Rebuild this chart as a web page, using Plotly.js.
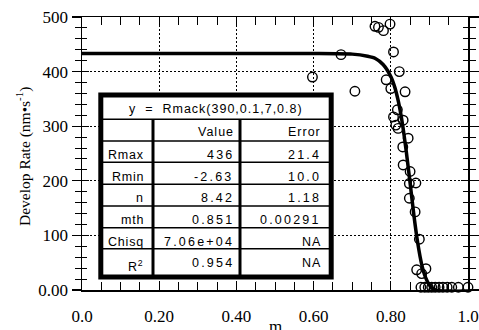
<!DOCTYPE html>
<html>
<head>
<meta charset="utf-8">
<script src="https://cdn.plot.ly/plotly-3.0.1.min.js"></script>
<style>html,body{margin:0;padding:0;background:#fff;}#chart{width:479px;height:330px;}</style>
</head>
<body>
<div id="chart"></div>
<script>
// ---- data ----
const xTickVals = [0, 0.2, 0.4, 0.6, 0.8, 1.0];
const xTickText = ['0.0', '0.20', '0.40', '0.60', '0.80', '1.0'];
const yTickVals = [0, 100, 200, 300, 400, 500];
const yTickText = ['0.00', '100', '200', '300', '400', '500'];

const measM = [0.597, 0.671, 0.707, 0.759, 0.768, 0.781, 0.798, 0.807, 0.822, 0.788, 0.800, 0.837,
  0.817, 0.807, 0.832, 0.813, 0.819, 0.845, 0.831, 0.832, 0.850, 0.848, 0.865, 0.848, 0.863, 0.874,
  0.867, 0.880, 0.891, 0.878, 0.888, 0.897, 0.906, 0.915, 0.925, 0.935, 0.946, 0.958, 0.975, 1.0];
const measRate = [390, 431, 364, 483, 481, 475, 487, 436, 400, 385, 369, 363,
  330, 317, 311, 302, 296, 278, 262, 229, 217, 195, 196, 168, 143, 93,
  37, 30, 39, 5, 5, 5, 5, 5, 5, 5, 5, 5, 5, 5];

const fitM = [0, 0.2, 0.4, 0.6, 0.7, 0.74, 0.76, 0.78, 0.80, 0.81, 0.82, 0.83, 0.84, 0.85, 0.86, 0.87, 0.88, 0.89, 0.90, 0.91, 0.92, 0.95, 1.0];
const fitRate = [433, 433, 433, 433, 432, 428, 424, 413, 391, 372, 344, 305, 254, 196, 136, 85, 47, 23, 9, 2, -1, -2, -2];

const tableTitle = 'y  =  Rmack(390,0.1,7,0.8)';
const colHeaders = ['', 'Value', 'Error'];
const paramNames = ['Rmax', 'Rmin', 'n', 'mth', 'Chisq', 'R<sup>2</sup>'];
const paramValues = ['436', '-2.63', '8.42', '0.851', '7.06e+04', '0.954'];
const paramErrors = ['21.4', '10.0', '1.18', '0.00291', 'NA', 'NA'];

// ---- layout helpers (pixel -> paper) ----
const L = 82, R = 468, T = 17, B = 290;
const PX = p => (p - L) / (R - L);
const PY = p => (B - p) / (B - T);

const serif = 'Liberation Serif, Times New Roman, serif';
const sans = 'Liberation Sans, Arial, Helvetica, sans-serif';
const spaced = (s, ls) => '<span style="letter-spacing:' + ls + 'px">' + s + '</span>';

const traces = [
  {x: fitM, y: fitRate, mode: 'lines', line: {color: '#000', width: 3.5, shape: 'spline', smoothing: 0.6}, hoverinfo: 'skip'},
  {x: measM, y: measRate, mode: 'markers', cliponaxis: false,
   marker: {symbol: 'circle-open', size: 9.5, color: '#000', line: {width: 1.4, color: '#000'}}},
  {x: [], y: [], yaxis: 'y2', mode: 'markers'}
];

// table geometry
const tL = 100.8, tR = 331.2, tT = 95, tB = 277;
const rowLines = [119.3, 141, 162.3, 184.3, 206, 227.7, 248.7];
const colLines = [153, 240];
const rowText = [155, 176.7, 198, 220, 242, 266];
const valText = [155, 176.7, 198, 220, 242, 263];
const colRight = [146, 236, 323];

const shapes = [];
shapes.push({type: 'rect', xref: 'paper', yref: 'paper', x0: PX(tL), x1: PX(tR), y0: PY(tB), y1: PY(tT),
  fillcolor: '#fff', line: {color: '#000', width: 5}});
rowLines.forEach(py => shapes.push({type: 'line', xref: 'paper', yref: 'paper', x0: PX(tL), x1: PX(tR), y0: PY(py), y1: PY(py),
  line: {color: '#000', width: 1.5}}));
colLines.forEach(px => shapes.push({type: 'line', xref: 'paper', yref: 'paper', x0: PX(px), x1: PX(px), y0: PY(rowLines[0]), y1: PY(tB),
  line: {color: '#000', width: 3}}));

const tf = {family: sans, size: 12.5, color: '#000'};
const ann = [];
const cell = (px, py, txt, anchor) => ann.push({xref: 'paper', yref: 'paper', x: PX(px), y: PY(py), text: txt, showarrow: false, font: tf, xanchor: anchor, yanchor: 'middle'});
cell((tL + tR) / 2, 108.5, spaced(tableTitle, 1), 'center');
colHeaders.forEach((h, i) => { if (h) cell(colRight[i], 131.5, spaced(h, 1), 'right'); });
paramNames.forEach((n, i) => {
  cell(colRight[0], rowText[i], spaced(n, 0.8), 'right');
  cell(colRight[1], valText[i], spaced(paramValues[i], 2.2), 'right');
  cell(colRight[2], valText[i], spaced(paramErrors[i], /\d/.test(paramErrors[i]) ? 2.2 : 1), 'right');
});
ann.push({xref: 'paper', yref: 'paper', x: PX(275), y: PY(326), text: 'm', showarrow: false, font: {family: serif, size: 17, color: '#000'}, xanchor: 'center', yanchor: 'middle'});
ann.push({xref: 'paper', yref: 'paper', x: PX(23), y: PY(157), text: 'Develop Rate (nm•s<sup>-1</sup>)', textangle: -90, showarrow: false, font: {family: serif, size: 15.5, color: '#000'}, xanchor: 'center', yanchor: 'middle'});

const layout = {
  width: 479, height: 330,
  margin: {l: L, r: 479 - R, t: T, b: 330 - B, pad: 0},
  paper_bgcolor: '#fff', plot_bgcolor: '#fff',
  showlegend: false,
  xaxis: {range: [0, 1], tickvals: xTickVals, ticktext: xTickText, ticks: 'inside', ticklen: 8, tickwidth: 1.2, tickcolor: '#000',
    showline: true, linecolor: '#000', linewidth: 1.5, mirror: 'allticks', zeroline: false,
    showgrid: true, gridcolor: '#000', gridwidth: 1, griddash: '2px,2px', ticklabelstandoff: 10,
    minor: {dtick: 0.05, ticks: 'inside', ticklen: 5, tickwidth: 1, tickcolor: '#000', showgrid: false},
    tickfont: {family: serif, size: 17, color: '#000'}, fixedrange: true},
  yaxis: {range: [0, 500], tickvals: yTickVals, ticktext: yTickText, ticks: 'outside', ticklen: 9, tickwidth: 1.2, tickcolor: '#000',
    showline: true, linecolor: '#000', linewidth: 1.5, mirror: 'allticks', zeroline: false,
    showgrid: true, gridcolor: '#000', gridwidth: 1, griddash: '2px,2px',
    minor: {dtick: 20, ticks: 'outside', ticklen: 6, tickwidth: 1, tickcolor: '#000', showgrid: false},
    tickfont: {family: serif, size: 17, color: '#000'}, fixedrange: true},
  yaxis2: {range: [0, 500], overlaying: 'y', side: 'left', tickvals: yTickVals, ticks: 'inside', ticklen: 7, tickwidth: 1.2, tickcolor: '#000',
    showticklabels: false, showline: false, mirror: 'allticks', showgrid: false, zeroline: false,
    minor: {dtick: 20, ticks: 'inside', ticklen: 5, tickwidth: 1, tickcolor: '#000', showgrid: false}, fixedrange: true},
  shapes: shapes,
  annotations: ann
};

Plotly.newPlot('chart', traces, layout, {displayModeBar: false, staticPlot: true});
</script>
</body>
</html>
